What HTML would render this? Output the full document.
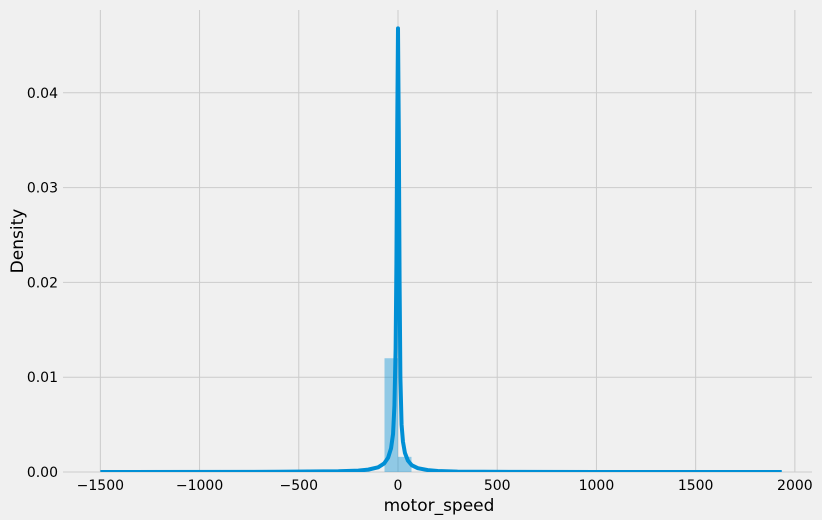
<!DOCTYPE html>
<html><head><meta charset="utf-8"><style>
body{margin:0;background:#f0f0f0;}
svg{display:block;font-family:"DejaVu Sans","Liberation Sans",sans-serif;}
</style></head><body>
<svg id="chart" width="822" height="520">
<defs><clipPath id="plotclip"><rect x="63" y="5" width="749" height="467"/></clipPath></defs>
<rect width="822" height="520" fill="#f0f0f0"/>
<g id="grid"></g>
<g id="bars" clip-path="url(#plotclip)"></g>
<g id="kde" clip-path="url(#plotclip)"></g>
<g id="ticks"></g>
<text x="439" y="511" font-size="17" text-anchor="middle" fill="#000">motor_speed</text>
<text transform="translate(23,241) rotate(-90)" font-size="17" text-anchor="middle" fill="#000">Density</text>
</svg>
<script>
const xTicks=[-1500,-1000,-500,0,500,1000,1500,2000];
const yTicks=[0,0.01,0.02,0.03,0.04];
const yTickLabels=["0.00","0.01","0.02","0.03","0.04"];
const binEdges=[-68,0,68];
const binHeights=[0.012,0.0016];
const kdeX=[-1500,-600,-300,-200,-150,-100,-70,-50,-35,-25,-18,-12,-8,-4,0,4,8,12,18,25,35,50,70,100,150,200,300,600,1000,1934];
const kdeY=[0,0.00002,0.00008,0.00015,0.00025,0.0005,0.0009,0.0015,0.0025,0.004,0.007,0.013,0.022,0.036,0.0468,0.036,0.02,0.01,0.005,0.0032,0.002,0.0012,0.0007,0.0004,0.0002,0.0001,0.00004,0.00001,0,0];
const NS="http://www.w3.org/2000/svg";
const X=v=>398+v*0.19843;
const Y=d=>472-d*9480;
function mk(tag,attrs,parent){const e=document.createElementNS(NS,tag);for(const k in attrs)e.setAttribute(k,attrs[k]);parent.appendChild(e);return e;}
const grid=document.getElementById('grid'),ticks=document.getElementById('ticks'),bars=document.getElementById('bars'),kde=document.getElementById('kde');
xTicks.forEach(t=>{
 const l=mk('line',{x1:X(t),x2:X(t),y1:10,y2:472,stroke:'#cbcbcb','stroke-width':1},grid);
 
 
 const tx=mk('text',{x:X(t),y:490,'font-size':14,'text-anchor':'middle',fill:'#000'},ticks);
 tx.textContent=(t<0?'\u2212'+(-t):String(t));
 
 
});
yTicks.forEach((t,i)=>{
 const l=mk('line',{x1:63,x2:812,y1:Y(t),y2:Y(t),stroke:'#cbcbcb','stroke-width':1},grid);
 
 
 const tx=mk('text',{x:58,y:Y(t)+5,'font-size':14,'text-anchor':'end',fill:'#000'},ticks);
 tx.textContent=yTickLabels[i];
 
 
});
binHeights.forEach((h,i)=>{
 const x0=X(binEdges[i]),x1=X(binEdges[i+1]);
 const r=mk('rect',{x:x0,y:Y(h),width:x1-x0,height:472-Y(h),fill:'#008fd5','fill-opacity':0.4},bars);
 
 
});
const pts=kdeX.map((v,i)=>X(v).toFixed(2)+','+Y(kdeY[i]).toFixed(2)).join(' ');
const p=mk('polyline',{points:pts,fill:'none',stroke:'#008fd5','stroke-width':4,'stroke-linejoin':'round'},kde);


</script>
</body></html>
